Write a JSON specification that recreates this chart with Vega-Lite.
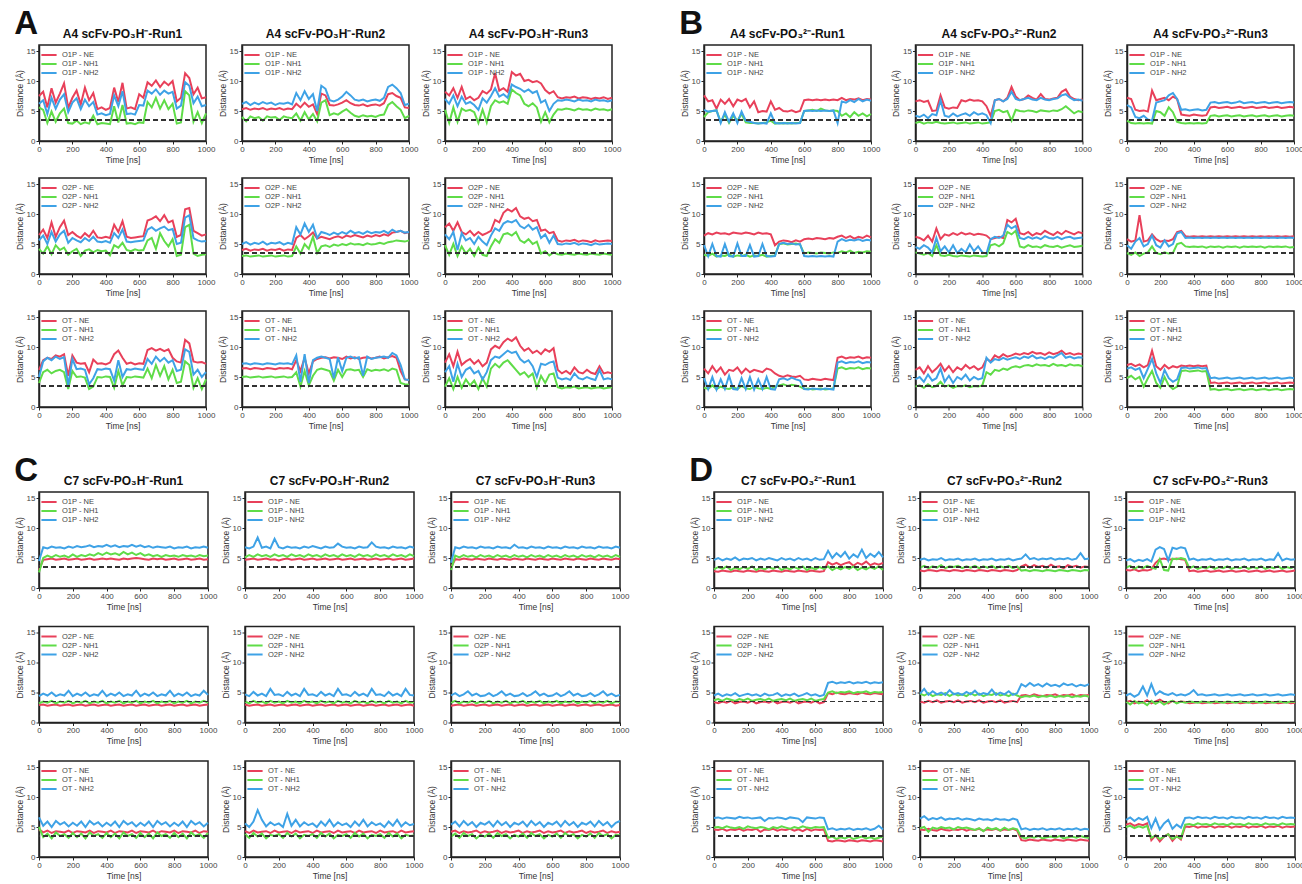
{
"$schema":"https://vega.github.io/schema/vega-lite/v6.json",
"padding":{"left":14,"top":8,"right":0,"bottom":0},
"datasets":{"times":[{"i":1,"t":0},{"i":2,"t":25},{"i":3,"t":50},{"i":4,"t":75},{"i":5,"t":100},{"i":6,"t":125},{"i":7,"t":150},{"i":8,"t":175},{"i":9,"t":200},{"i":10,"t":225},{"i":11,"t":250},{"i":12,"t":275},{"i":13,"t":300},{"i":14,"t":325},{"i":15,"t":350},{"i":16,"t":375},{"i":17,"t":400},{"i":18,"t":425},{"i":19,"t":450},{"i":20,"t":475},{"i":21,"t":500},{"i":22,"t":525},{"i":23,"t":550},{"i":24,"t":575},{"i":25,"t":600},{"i":26,"t":625},{"i":27,"t":650},{"i":28,"t":675},{"i":29,"t":700},{"i":30,"t":725},{"i":31,"t":750},{"i":32,"t":775},{"i":33,"t":800},{"i":34,"t":825},{"i":35,"t":850},{"i":36,"t":875},{"i":37,"t":900},{"i":38,"t":925},{"i":39,"t":950},{"i":40,"t":975},{"i":41,"t":1000}]},
"data":{"values":[
{"p":"A11","lab":"O1P - NE","v":[7.5,8.2,5.6,8.8,6.4,7.9,9.6,5.5,7.2,8.4,6.1,8.9,6.8,8.0,5.3,5.6,5.2,5.5,8.9,6.5,9.7,5.4,5.6,5.3,7.8,7.2,9.8,9.2,10.1,9.0,9.9,9.3,10.0,6.6,7.2,11.3,10.5,7.8,8.9,7.1,7.3]},
{"p":"A11","lab":"O1P - NH1","v":[5.6,5.2,3.0,4.9,3.2,4.6,5.4,3.0,2.9,3.4,2.8,3.1,2.9,4.2,2.8,3.0,2.9,2.8,5.8,3.1,6.0,2.9,3.0,2.8,3.1,3.0,6.5,5.6,7.2,5.4,6.8,5.3,6.2,2.9,3.1,8.3,7.6,3.2,4.8,3.0,4.6]},
{"p":"A11","lab":"O1P - NH2","v":[6.2,6.8,4.5,7.2,5.4,6.9,7.8,4.8,6.4,7.1,5.3,6.9,5.8,6.5,4.4,4.6,4.3,4.5,7.6,5.8,8.3,4.5,4.6,4.4,6.0,5.9,8.4,7.9,8.6,7.7,8.4,7.9,8.2,5.4,5.9,9.8,9.2,6.3,7.4,5.8,6.0]},
{"p":"A12","lab":"O1P - NE","v":[5.3,5.5,5.2,5.4,5.3,5.5,5.2,5.4,5.3,5.5,5.2,5.4,5.3,6.2,5.6,6.4,5.7,6.1,4.5,7.9,7.6,6.0,5.9,6.1,6.4,6.8,6.3,6.0,5.9,6.1,5.8,6.0,6.1,5.9,6.3,7.8,8.0,7.5,7.2,5.6,5.5]},
{"p":"A12","lab":"O1P - NH1","v":[4.0,3.3,4.1,3.8,4.0,3.4,4.1,3.9,4.0,3.5,4.1,3.9,3.8,4.6,3.4,4.8,3.6,4.5,3.3,6.4,6.8,4.3,4.6,4.4,4.9,5.3,4.7,4.2,4.0,4.3,4.1,4.2,4.0,4.3,4.4,6.0,6.5,5.8,5.2,3.8,4.2]},
{"p":"A12","lab":"O1P - NH2","v":[6.2,6.5,6.0,6.4,6.1,6.5,6.2,6.4,6.0,6.3,6.2,6.4,6.1,8.0,6.8,8.3,7.0,7.8,5.0,9.2,8.7,6.8,6.6,6.9,7.4,8.2,7.6,6.9,6.7,6.9,6.6,6.8,6.9,6.7,7.2,9.0,9.4,8.8,8.0,6.0,6.2]},
{"p":"A13","lab":"O1P - NE","v":[8.2,7.6,8.8,7.2,9.0,7.0,7.4,6.8,7.2,8.3,7.9,8.6,11.3,8.4,8.8,8.2,11.5,10.9,11.2,10.0,10.2,9.8,10.0,9.6,8.5,7.9,8.3,7.3,7.1,7.3,7.2,7.4,7.1,7.3,7.2,7.0,7.2,7.1,7.3,7.0,7.2]},
{"p":"A13","lab":"O1P - NH1","v":[5.2,3.0,5.6,3.2,5.4,5.0,5.2,4.8,3.0,5.2,3.1,5.8,6.8,6.4,6.6,6.2,8.6,8.0,7.6,6.2,5.8,6.3,5.6,3.2,4.8,3.1,4.4,5.3,5.2,5.4,5.3,5.1,5.4,5.2,5.3,5.1,5.4,5.2,5.3,5.1,5.3]},
{"p":"A13","lab":"O1P - NH2","v":[7.0,6.2,7.6,5.8,7.4,6.2,6.5,6.0,5.2,7.1,6.4,7.5,8.8,7.4,7.8,7.2,9.4,9.0,8.7,8.2,8.6,8.0,8.3,6.4,6.8,5.0,6.2,6.8,6.7,6.9,6.8,6.6,6.9,6.7,6.8,6.6,6.9,6.7,6.8,6.6,6.8]},
{"p":"A21","lab":"O2P - NE","v":[6.5,7.4,6.0,8.6,6.2,7.8,8.9,6.5,7.0,6.4,6.0,6.8,6.2,7.2,6.1,6.0,6.2,6.0,8.2,7.0,8.8,6.2,6.0,6.1,6.2,6.3,8.9,9.2,9.6,8.8,9.8,8.6,8.9,6.2,6.5,10.8,11.0,7.2,6.8,6.4,6.6]},
{"p":"A21","lab":"O2P - NH1","v":[4.2,3.4,4.6,3.3,4.8,4.0,4.4,3.2,3.8,4.2,3.0,3.9,4.1,3.6,4.0,3.8,3.9,3.1,4.8,4.4,5.2,4.0,3.8,4.1,3.9,4.0,5.6,6.0,4.2,6.8,5.5,4.6,5.8,3.0,3.2,7.8,8.2,3.4,3.0,3.2,3.3]},
{"p":"A21","lab":"O2P - NH2","v":[5.6,6.4,5.0,7.0,5.4,6.6,7.2,5.2,6.0,5.6,5.3,6.0,5.5,6.2,5.4,5.3,5.5,5.2,6.8,6.0,7.4,5.4,5.3,5.4,5.5,5.6,7.4,7.8,7.2,7.6,7.9,7.3,7.5,5.0,5.2,9.4,9.8,6.0,5.6,5.4,5.5]},
{"p":"A22","lab":"O2P - NE","v":[4.0,4.2,3.9,4.1,4.0,4.2,3.9,4.1,4.0,4.2,3.9,4.1,4.0,6.0,6.5,5.8,6.3,6.9,5.9,6.2,6.0,5.8,6.1,6.3,6.0,6.4,6.2,6.5,6.3,6.1,6.4,6.2,6.5,6.3,6.6,6.4,6.9,7.0,7.2,6.8,7.0]},
{"p":"A22","lab":"O2P - NH1","v":[3.0,3.1,2.9,3.0,3.1,2.9,3.0,3.1,2.9,3.0,3.1,2.9,3.0,4.6,3.4,5.0,4.2,6.2,3.5,4.6,4.8,4.5,4.9,4.7,5.0,4.8,5.1,4.9,5.0,4.8,5.1,4.9,5.0,5.2,5.0,5.3,5.4,5.6,5.5,5.4,5.6]},
{"p":"A22","lab":"O2P - NH2","v":[5.0,5.3,4.9,5.2,5.0,5.4,4.9,5.2,5.1,5.3,4.9,5.2,5.0,7.8,6.6,8.4,7.0,8.2,6.0,7.0,6.8,6.5,6.9,6.6,7.0,6.7,7.2,6.8,7.0,6.7,7.1,6.8,7.0,6.9,7.2,6.8,7.4,7.0,7.2,6.9,7.0]},
{"p":"A23","lab":"O2P - NE","v":[7.8,8.4,7.2,8.6,7.0,6.6,7.2,6.4,7.0,6.5,6.8,7.2,9.0,8.6,10.2,10.8,10.4,11.0,9.6,9.2,9.4,8.8,9.0,7.2,7.4,6.8,7.0,5.6,5.4,5.6,5.5,5.7,5.4,5.6,5.5,5.3,5.6,5.4,5.5,5.6,5.5]},
{"p":"A23","lab":"O2P - NH1","v":[4.8,3.2,5.0,3.0,4.6,3.4,4.2,3.0,4.4,3.2,3.0,4.6,5.8,5.2,6.6,6.8,6.4,7.0,5.6,5.2,5.8,5.0,5.4,3.4,3.8,3.1,3.6,3.3,3.2,3.4,3.3,3.2,3.4,3.3,3.2,3.4,3.3,3.2,3.4,3.3,3.2]},
{"p":"A23","lab":"O2P - NH2","v":[6.6,5.8,7.0,4.0,6.8,5.6,6.0,5.0,6.2,5.4,4.8,6.4,7.6,7.2,8.4,8.8,8.6,9.0,8.0,7.6,8.2,7.4,7.8,6.0,6.6,5.2,6.4,5.0,4.9,5.1,5.0,5.2,4.9,5.1,5.0,4.8,5.1,4.9,5.0,5.1,5.0]},
{"p":"A31","lab":"OT - NE","v":[6.2,7.8,8.2,8.0,8.6,8.4,8.8,5.2,8.6,7.4,7.2,7.3,5.8,7.9,7.2,7.3,7.1,7.4,8.8,9.4,8.2,7.2,7.4,7.1,7.3,7.2,9.5,9.8,9.4,9.7,9.3,9.6,8.2,7.6,7.4,11.2,10.6,7.6,7.4,7.5,7.2]},
{"p":"A31","lab":"OT - NH1","v":[4.0,5.8,6.2,5.6,6.0,6.2,5.8,3.0,6.0,5.0,5.1,4.9,3.0,3.4,5.0,4.9,5.1,5.0,3.2,6.0,3.6,5.0,4.9,5.1,5.0,4.9,6.4,4.8,7.0,5.2,6.8,4.6,6.2,4.0,4.2,7.6,7.0,3.2,4.8,3.0,4.6]},
{"p":"A31","lab":"OT - NH2","v":[5.0,7.6,8.2,7.8,8.4,8.0,8.3,3.6,8.0,6.3,6.4,6.2,3.8,4.8,6.3,6.2,6.4,6.3,4.4,7.8,5.0,6.3,6.2,6.4,6.3,6.2,8.0,7.2,8.4,7.6,8.2,7.4,7.8,6.0,6.2,9.6,9.2,5.4,6.2,5.0,5.8]},
{"p":"A32","lab":"OT - NE","v":[6.4,6.5,6.3,6.5,6.4,6.3,6.5,6.4,6.3,6.5,6.4,6.5,6.3,7.8,6.0,8.2,5.6,7.6,8.0,8.2,8.3,8.1,8.3,8.2,8.0,8.4,8.1,8.3,8.0,8.2,8.3,8.1,8.2,8.4,8.1,8.3,8.5,8.2,6.0,4.6,4.5]},
{"p":"A32","lab":"OT - NH1","v":[5.0,5.1,4.9,5.0,5.1,4.9,5.0,5.1,4.9,5.0,5.1,4.9,5.0,5.8,3.4,6.0,3.6,5.2,6.2,6.4,6.2,6.0,4.4,6.2,5.0,6.2,6.3,6.1,6.2,5.0,6.3,6.0,6.2,6.1,6.3,6.0,6.4,6.2,4.0,3.8,3.7]},
{"p":"A32","lab":"OT - NH2","v":[7.2,7.3,7.1,7.3,7.2,7.1,7.3,7.2,7.1,7.3,7.2,7.3,7.1,8.6,4.2,8.8,4.0,7.8,8.2,8.4,8.2,8.0,4.8,8.3,6.0,8.2,8.4,8.1,8.3,5.2,8.4,8.0,8.2,8.3,8.4,8.2,9.0,8.6,7.0,4.6,4.5]},
{"p":"A33","lab":"OT - NE","v":[7.4,8.8,6.8,9.2,7.0,7.6,8.0,7.2,7.8,6.8,7.4,9.6,10.2,9.8,10.8,11.4,11.0,11.6,10.2,9.4,9.8,9.0,9.4,8.8,9.6,9.2,9.8,6.2,5.6,6.0,5.5,6.6,5.8,5.6,6.2,5.7,5.5,6.8,5.6,5.8,5.6]},
{"p":"A33","lab":"OT - NH1","v":[3.4,4.8,3.0,5.0,3.2,4.6,3.6,4.4,3.0,4.8,3.4,6.4,7.2,6.6,7.4,7.8,7.0,6.2,5.4,5.8,5.0,5.6,3.2,5.2,4.0,5.4,5.6,3.3,3.1,3.3,3.2,3.4,3.1,3.2,3.3,3.1,3.2,3.3,3.1,3.2,3.3]},
{"p":"A33","lab":"OT - NH2","v":[5.8,6.8,4.2,7.2,5.0,6.2,6.6,5.6,6.0,4.6,5.8,7.8,8.4,8.2,8.8,9.4,9.0,9.2,8.0,7.4,7.8,6.8,5.0,7.2,7.0,7.4,7.6,4.9,4.6,4.8,4.5,5.6,4.8,4.6,5.0,4.7,4.5,6.2,4.6,4.8,4.6]},
{"p":"B11","lab":"O1P - NE","v":[7.6,6.6,6.8,5.4,6.9,6.2,7.0,5.8,6.9,6.6,7.0,5.6,6.6,4.8,5.0,4.9,6.6,5.2,5.5,5.0,4.9,5.1,4.8,5.0,6.8,6.9,6.8,6.9,6.8,6.9,6.8,6.9,6.8,7.2,6.8,7.0,6.9,7.1,6.8,7.0,6.9]},
{"p":"B11","lab":"O1P - NH1","v":[4.0,4.8,5.0,5.1,3.2,4.4,3.0,4.2,3.4,4.5,3.1,3.0,3.0,2.9,3.0,3.1,3.4,2.9,3.0,2.9,3.0,2.9,3.0,3.0,5.0,5.1,5.2,5.0,5.4,5.1,5.0,5.1,5.0,4.2,4.6,4.0,4.8,4.2,4.6,4.1,4.5]},
{"p":"B11","lab":"O1P - NH2","v":[5.2,4.9,5.0,5.1,3.0,4.8,3.2,4.6,3.0,4.9,3.4,3.2,3.0,2.9,3.0,2.9,4.6,3.0,2.9,3.0,2.9,3.0,2.9,3.0,5.0,5.1,5.0,5.1,5.0,5.1,5.0,5.1,3.0,6.6,6.4,6.8,6.5,7.0,6.6,6.9,6.7]},
{"p":"B12","lab":"O1P - NE","v":[6.6,6.8,6.5,6.7,5.0,5.1,7.6,5.6,5.4,5.6,5.5,6.8,6.6,6.9,6.7,6.8,6.6,5.8,4.2,6.8,7.0,6.6,7.2,9.0,7.4,6.8,7.0,7.6,7.2,6.9,7.8,7.0,6.9,7.1,7.2,8.2,8.6,7.4,7.0,6.8,6.9]},
{"p":"B12","lab":"O1P - NH1","v":[3.0,3.2,2.9,3.1,3.0,3.2,3.0,2.9,3.0,3.1,2.9,3.0,3.1,2.9,3.0,3.1,2.9,3.0,3.1,5.0,5.2,4.8,5.0,3.4,5.2,5.0,4.9,5.1,5.0,4.8,5.1,5.0,4.9,5.1,5.0,5.3,5.8,5.2,4.6,5.0,4.8]},
{"p":"B12","lab":"O1P - NH2","v":[4.2,4.0,4.4,3.8,4.5,4.3,6.8,4.2,4.0,4.6,4.1,4.4,4.6,4.2,4.8,4.4,4.6,4.3,3.0,6.8,7.0,6.6,7.0,8.2,7.0,6.8,7.0,7.2,6.9,6.8,7.2,6.9,6.8,7.0,7.1,7.6,7.8,7.2,6.8,6.9,6.7]},
{"p":"B13","lab":"O1P - NE","v":[7.2,7.0,5.2,5.0,5.1,4.9,8.4,6.8,7.0,7.2,6.8,7.4,7.0,4.4,4.3,4.2,4.4,4.3,4.2,4.3,5.6,5.7,5.5,5.6,5.7,5.5,5.6,5.7,5.5,5.6,5.7,5.5,5.6,5.7,5.5,5.6,5.7,5.5,5.6,5.7,5.6]},
{"p":"B13","lab":"O1P - NH1","v":[3.4,3.0,2.9,3.0,2.9,3.0,2.9,5.0,4.8,4.2,5.6,4.8,3.2,3.0,2.9,3.0,2.9,3.0,2.9,3.0,4.2,4.3,4.1,4.2,4.3,4.1,4.2,4.3,4.1,4.2,4.3,4.1,4.2,4.3,4.1,4.2,4.3,4.1,4.2,4.3,4.2]},
{"p":"B13","lab":"O1P - NH2","v":[6.0,5.6,4.0,3.8,4.2,3.6,3.4,6.4,6.6,6.8,7.6,8.0,7.0,5.2,5.3,5.1,5.2,5.3,5.1,5.2,6.4,6.5,6.3,6.4,6.5,6.3,6.4,6.6,6.3,6.4,6.5,6.3,6.4,6.5,6.3,6.4,6.5,6.3,6.4,6.5,6.4]},
{"p":"B21","lab":"O2P - NE","v":[6.4,6.8,6.6,6.9,6.7,6.8,6.6,6.9,6.8,6.7,6.9,6.8,6.6,6.9,6.7,6.8,6.6,4.8,5.4,5.6,5.5,5.3,5.6,5.4,5.8,5.9,5.8,6.0,5.9,5.8,6.0,5.9,6.2,6.4,6.0,6.3,5.9,6.2,6.0,6.4,6.1]},
{"p":"B21","lab":"O2P - NH1","v":[3.2,3.0,3.4,2.9,3.1,3.0,3.3,2.9,3.1,3.0,3.2,2.9,3.1,3.0,3.2,2.9,3.0,3.1,5.0,5.1,4.9,5.0,5.1,4.9,3.4,3.6,3.5,3.4,3.6,3.5,3.4,3.6,3.5,3.8,3.6,3.9,3.5,3.7,3.6,3.8,3.7]},
{"p":"B21","lab":"O2P - NH2","v":[4.8,3.0,5.0,3.0,2.9,5.0,3.0,2.9,5.1,3.0,3.0,4.8,2.9,3.0,5.0,3.0,2.9,3.0,5.0,5.2,5.0,5.1,4.9,5.0,3.0,2.9,3.0,2.9,3.0,2.9,3.0,2.9,5.4,5.8,5.5,5.7,5.6,5.8,5.5,5.7,5.6]},
{"p":"B22","lab":"O2P - NE","v":[6.2,6.0,5.6,6.4,5.4,7.6,5.8,6.6,6.4,6.8,6.5,6.9,6.6,6.8,6.5,6.7,6.6,6.4,5.8,6.0,6.2,6.0,9.0,8.6,9.2,6.8,6.6,7.0,6.4,6.8,6.6,7.2,6.8,6.5,7.0,6.6,7.2,6.9,6.6,7.0,6.8]},
{"p":"B22","lab":"O2P - NH1","v":[3.6,3.4,3.2,3.5,3.0,4.8,3.1,3.0,3.2,3.0,2.9,3.1,3.0,2.9,3.1,3.0,2.9,3.0,4.8,5.0,4.6,5.1,7.0,6.6,7.2,4.6,4.4,4.8,4.5,4.6,4.4,4.8,4.6,4.5,4.7,4.4,4.6,4.8,4.5,4.6,4.7]},
{"p":"B22","lab":"O2P - NH2","v":[4.5,4.2,4.8,4.4,3.6,6.0,3.8,4.6,3.6,4.8,3.5,4.2,3.6,4.9,3.8,4.6,3.6,3.4,5.8,6.2,6.0,6.4,8.2,7.6,8.0,6.0,5.8,6.2,5.9,6.1,5.8,6.3,6.0,5.9,6.2,5.8,6.1,6.2,5.9,6.0,6.1]},
{"p":"B23","lab":"O2P - NE","v":[5.8,5.4,5.6,9.8,5.4,5.6,6.6,5.8,5.4,5.6,5.5,5.8,7.0,7.2,6.3,6.2,6.3,6.2,6.3,6.2,6.3,6.2,6.3,6.2,6.3,6.2,6.3,6.2,6.3,6.2,6.3,6.2,6.3,6.2,6.3,6.2,6.3,6.2,6.3,6.2,6.3]},
{"p":"B23","lab":"O2P - NH1","v":[3.5,3.2,3.6,3.0,3.4,3.6,4.6,3.5,3.3,3.6,3.4,3.5,5.0,5.2,4.6,4.5,4.6,4.5,4.6,4.4,4.6,4.5,4.6,4.4,4.6,4.5,4.6,4.4,4.6,4.5,4.6,4.5,4.6,4.4,4.6,4.5,4.6,4.5,4.6,4.4,4.5]},
{"p":"B23","lab":"O2P - NH2","v":[4.8,4.2,5.4,6.0,4.6,5.0,6.4,4.8,4.4,5.6,4.6,5.0,6.8,7.0,6.0,6.1,6.0,6.1,6.0,6.1,6.0,6.1,6.0,6.1,6.0,6.1,6.0,6.1,6.0,6.1,6.0,6.1,6.0,6.1,6.0,6.1,6.0,6.1,6.0,6.1,6.0]},
{"p":"B31","lab":"OT - NE","v":[6.4,5.6,6.8,5.8,6.6,5.4,6.2,6.0,6.6,5.6,6.4,5.8,6.2,6.0,5.8,6.4,6.2,5.6,5.2,5.0,5.3,5.1,5.0,5.2,4.6,4.5,4.7,4.6,4.5,4.7,4.6,4.5,8.2,8.4,8.1,8.3,8.2,8.4,8.1,8.3,8.2]},
{"p":"B31","lab":"OT - NH1","v":[3.2,3.0,3.6,3.0,3.4,3.1,3.0,3.3,3.0,3.5,3.1,3.0,3.4,3.1,3.0,3.2,3.0,3.4,3.6,3.8,3.5,3.7,3.6,3.4,3.0,3.1,2.9,3.0,3.1,2.9,3.0,3.1,6.4,6.6,6.3,6.5,6.4,6.6,6.3,6.5,6.4]},
{"p":"B31","lab":"OT - NH2","v":[4.8,3.0,5.0,2.9,4.6,3.0,5.2,3.0,2.9,4.8,3.0,5.0,2.9,4.6,3.0,5.0,3.0,2.9,4.6,4.8,4.5,4.9,4.6,4.4,3.0,2.9,3.1,3.0,2.9,3.1,3.0,2.9,7.4,7.6,7.3,7.5,7.4,7.6,7.3,7.5,7.4]},
{"p":"B32","lab":"OT - NE","v":[6.2,6.6,5.6,6.8,5.8,6.4,7.2,6.0,6.8,5.8,6.6,6.2,7.0,6.4,6.8,6.2,6.6,8.0,7.6,8.6,8.2,8.8,8.4,8.6,8.9,8.7,9.0,8.8,9.2,8.9,9.0,8.7,9.1,8.8,9.0,9.4,8.8,9.0,8.7,8.9,8.8]},
{"p":"B32","lab":"OT - NH1","v":[3.4,3.6,3.2,3.8,3.3,3.5,4.2,3.4,3.6,3.2,3.5,3.4,3.6,3.3,3.5,3.4,3.6,5.8,5.4,6.2,6.0,6.4,6.2,6.6,6.8,6.6,6.9,7.0,6.8,7.1,6.9,7.0,6.8,7.2,6.9,7.0,6.8,7.1,6.9,7.0,6.8]},
{"p":"B32","lab":"OT - NH2","v":[4.6,5.0,4.2,5.4,4.4,4.8,6.4,4.2,5.2,4.0,5.0,4.6,5.4,4.4,5.0,4.6,4.8,8.2,7.4,8.0,7.8,8.2,7.9,8.1,8.3,8.0,8.4,8.2,8.6,8.1,8.3,8.0,8.4,8.2,8.6,9.0,8.2,8.4,8.1,8.3,8.2]},
{"p":"B33","lab":"OT - NE","v":[7.0,7.2,6.8,7.1,6.6,7.0,9.4,6.8,6.2,7.0,6.4,6.8,6.6,6.9,6.8,6.9,6.8,6.9,6.8,6.9,4.0,4.1,3.9,4.0,4.1,3.9,4.0,4.1,3.9,4.0,4.1,3.9,4.0,4.1,3.9,4.0,4.1,3.9,4.0,4.1,4.0]},
{"p":"B33","lab":"OT - NH1","v":[4.8,5.2,4.6,5.0,3.4,4.8,6.0,4.0,3.2,5.0,3.6,3.0,3.4,6.0,6.1,5.9,6.0,6.1,5.9,6.0,2.9,3.0,2.8,2.9,3.0,2.8,2.9,3.0,2.8,2.9,3.0,2.8,2.9,3.0,2.8,2.9,3.0,2.8,2.9,3.0,2.9]},
{"p":"B33","lab":"OT - NH2","v":[6.4,6.6,6.2,6.5,4.8,6.4,8.0,5.6,4.0,6.2,4.8,4.2,4.6,6.5,6.6,6.4,6.5,6.6,6.4,6.5,4.8,4.9,4.7,4.8,4.9,4.7,4.8,4.9,4.7,4.8,4.9,4.7,4.8,4.9,4.7,4.8,4.9,4.7,4.8,4.9,4.8]},
{"p":"C11","lab":"O1P - NE","v":[3.0,4.7,4.8,4.9,4.7,4.8,4.9,4.7,4.8,4.9,4.7,4.8,4.9,4.7,4.8,4.9,4.8,4.9,4.8,4.7,4.9,4.8,4.9,5.0,4.9,4.8,4.7,4.9,4.8,4.9,4.7,4.8,4.9,4.7,4.8,4.9,4.7,4.8,4.9,4.7,4.8]},
{"p":"C11","lab":"O1P - NH1","v":[2.6,5.0,5.4,5.1,5.5,5.2,5.4,5.1,5.6,5.2,5.5,5.3,5.6,5.4,5.8,5.5,5.9,5.6,5.8,5.5,6.0,5.6,5.9,5.5,5.8,5.4,5.6,5.3,5.5,5.2,5.5,5.3,5.4,5.2,5.5,5.3,5.4,5.2,5.5,5.3,5.4]},
{"p":"C11","lab":"O1P - NH2","v":[4.5,6.8,6.6,6.9,6.7,6.8,6.6,6.9,6.7,7.0,6.8,6.9,7.1,6.8,7.0,6.9,7.2,6.9,7.1,6.8,7.0,6.9,7.2,6.9,7.1,6.8,7.0,6.7,6.9,6.8,6.7,6.9,6.6,6.8,6.7,6.9,6.6,6.8,6.7,6.9,6.7]},
{"p":"C12","lab":"O1P - NE","v":[4.7,4.8,4.9,4.7,4.8,4.9,4.7,4.8,4.6,4.8,4.9,4.7,4.8,4.9,4.7,4.8,4.9,4.7,4.8,4.9,4.7,4.8,4.9,4.7,4.8,4.9,4.7,4.8,4.9,4.7,4.8,4.9,4.7,4.8,4.9,4.7,4.8,4.9,4.7,4.8,4.9]},
{"p":"C12","lab":"O1P - NH1","v":[5.1,5.5,5.2,5.6,5.3,5.5,5.2,5.6,5.3,5.5,5.2,5.6,5.3,5.5,5.2,5.6,5.3,5.5,5.2,5.6,5.3,5.5,5.2,5.6,5.3,5.5,5.2,5.6,5.3,5.5,5.2,5.6,5.3,5.5,5.2,5.6,5.3,5.5,5.2,5.6,5.3]},
{"p":"C12","lab":"O1P - NH2","v":[6.8,6.6,6.9,8.4,6.7,6.9,6.6,8.2,6.8,6.6,6.9,6.7,6.8,6.6,6.9,6.7,7.0,6.8,6.6,6.9,6.7,6.8,7.4,6.9,6.7,6.8,6.6,6.9,6.7,6.8,7.6,6.9,6.7,6.8,6.6,6.9,6.7,6.8,6.6,6.9,6.7]},
{"p":"C13","lab":"O1P - NE","v":[3.4,4.8,4.7,4.9,4.8,4.7,4.9,4.8,4.7,4.9,4.8,4.7,4.9,4.8,4.7,4.9,4.8,4.7,4.9,4.8,4.7,4.9,4.8,4.7,4.9,4.8,4.7,4.9,4.8,4.7,4.9,4.8,4.7,4.9,4.8,4.7,4.9,4.8,4.7,4.9,4.8]},
{"p":"C13","lab":"O1P - NH1","v":[3.0,5.4,5.1,5.5,5.2,5.4,5.1,5.5,5.2,5.4,5.1,5.5,5.2,5.4,5.1,5.5,5.2,5.4,5.1,5.5,5.2,5.4,5.1,5.5,5.2,5.4,5.1,5.5,5.2,5.4,5.1,5.5,5.2,5.4,5.1,5.5,5.2,5.4,5.1,5.5,5.2]},
{"p":"C13","lab":"O1P - NH2","v":[4.2,6.8,6.6,6.9,6.7,6.8,6.6,6.9,6.7,6.8,6.6,6.9,6.7,6.8,6.6,7.2,6.7,6.8,6.6,6.9,6.7,6.8,6.6,6.9,6.7,6.8,6.6,6.9,6.7,6.8,6.6,6.9,6.7,6.8,6.6,6.9,6.7,6.8,6.6,6.9,6.7]},
{"p":"C21","lab":"O2P - NE","v":[2.9,3.0,2.8,2.9,3.0,2.8,2.9,3.0,2.8,2.9,3.0,2.8,2.9,3.0,2.8,2.9,3.0,2.8,2.9,3.0,2.8,2.9,3.0,2.8,2.9,3.0,2.8,2.9,3.0,2.8,2.9,3.0,2.8,2.9,3.0,2.8,2.9,3.0,2.8,2.9,3.0]},
{"p":"C21","lab":"O2P - NH1","v":[3.2,3.5,3.3,3.6,3.2,3.5,3.3,3.6,3.2,3.5,3.3,3.6,3.2,3.5,3.3,3.6,3.2,3.5,3.3,3.6,3.2,3.5,3.3,3.6,3.2,3.5,3.3,3.6,3.2,3.5,3.3,3.6,3.2,3.5,3.3,3.6,3.2,3.5,3.3,3.6,3.3]},
{"p":"C21","lab":"O2P - NH2","v":[4.4,4.8,4.5,5.0,4.4,4.7,4.5,5.3,4.4,4.8,4.5,5.0,4.4,4.7,4.5,5.3,4.4,4.8,4.5,5.0,4.4,4.7,4.5,5.3,4.4,4.8,4.5,5.0,4.4,4.7,4.5,5.3,4.4,4.8,4.5,5.0,4.4,4.7,4.5,5.3,4.6]},
{"p":"C22","lab":"O2P - NE","v":[3.0,2.8,2.9,3.0,2.8,2.9,3.0,2.8,2.9,3.0,2.8,2.9,3.0,2.8,2.9,3.0,2.8,2.9,3.0,2.8,2.9,3.0,2.8,2.9,3.0,2.8,2.9,3.0,2.8,2.9,3.0,2.8,2.9,3.0,2.8,2.9,3.0,2.8,2.9,3.0,2.8]},
{"p":"C22","lab":"O2P - NH1","v":[3.5,3.2,3.6,3.3,3.5,3.2,3.6,3.3,3.5,3.2,3.6,3.3,3.5,3.2,3.6,3.3,3.5,3.2,3.6,3.3,3.5,3.2,3.6,3.3,3.5,3.2,3.6,3.3,3.5,3.2,3.6,3.3,3.5,3.2,3.6,3.3,3.5,3.2,3.6,3.3,3.4]},
{"p":"C22","lab":"O2P - NH2","v":[4.7,4.4,5.1,4.5,4.8,4.4,5.6,4.6,4.7,4.4,5.1,4.5,4.8,4.4,5.6,4.6,4.7,4.4,5.1,4.5,4.8,4.4,5.6,4.6,4.7,4.4,5.1,4.5,4.8,4.4,5.6,4.6,4.7,4.4,5.1,4.5,4.8,4.4,5.6,4.6,4.5]},
{"p":"C23","lab":"O2P - NE","v":[2.8,2.9,3.0,2.8,2.9,3.0,2.8,2.9,3.0,2.8,2.9,3.0,2.8,2.9,3.0,2.8,2.9,3.0,2.8,2.9,3.0,2.8,2.9,3.0,2.8,2.9,3.0,2.8,2.9,3.0,2.8,2.9,3.0,2.8,2.9,3.0,2.8,2.9,3.0,2.8,2.9]},
{"p":"C23","lab":"O2P - NH1","v":[3.3,3.6,3.2,3.5,3.3,3.6,3.2,3.5,3.3,3.6,3.2,3.5,3.3,3.6,3.2,3.5,3.3,3.6,3.2,3.5,3.3,3.6,3.2,3.5,3.3,3.6,3.2,3.5,3.3,3.6,3.2,3.5,3.3,3.6,3.2,3.5,3.3,3.6,3.2,3.5,3.4]},
{"p":"C23","lab":"O2P - NH2","v":[4.5,4.9,4.4,4.7,5.2,4.5,4.8,4.4,4.5,4.9,4.4,4.7,5.2,4.5,4.8,4.4,4.5,4.9,4.4,4.7,5.2,4.5,4.8,4.4,4.5,4.9,4.4,4.7,5.2,4.5,4.8,4.4,4.5,4.9,4.4,4.7,5.2,4.5,4.8,4.4,4.6]},
{"p":"C31","lab":"OT - NE","v":[4.6,4.1,4.4,4.0,4.3,4.2,4.1,4.4,4.0,4.3,4.2,4.1,4.4,4.0,4.3,4.2,4.1,4.4,4.0,4.3,4.2,4.1,4.4,4.0,4.3,4.2,4.1,4.4,4.0,4.3,4.2,4.1,4.4,4.0,4.3,4.2,4.1,4.4,4.0,4.3,4.2]},
{"p":"C31","lab":"OT - NH1","v":[5.0,3.3,3.9,3.1,4.1,3.5,3.8,3.2,4.0,3.3,3.9,3.1,4.1,3.5,3.8,3.2,4.0,3.3,3.9,3.1,4.1,3.5,3.8,3.2,4.0,3.3,3.9,3.1,4.1,3.5,3.8,3.2,4.0,3.3,3.9,3.1,4.1,3.5,3.8,3.2,4.0]},
{"p":"C31","lab":"OT - NH2","v":[6.6,5.2,5.9,5.0,6.0,5.4,5.8,5.1,5.7,5.2,5.9,5.0,6.0,5.4,5.8,5.1,5.7,5.2,5.9,5.0,6.0,5.4,5.8,5.1,5.7,5.2,5.9,5.0,6.0,5.4,5.8,5.1,5.7,5.2,5.9,5.0,6.0,5.4,5.8,5.1,5.7]},
{"p":"C32","lab":"OT - NE","v":[4.3,4.0,4.4,4.1,4.2,4.3,4.0,4.4,4.1,4.2,4.3,4.0,4.4,4.1,4.2,4.3,4.0,4.4,4.1,4.2,4.3,4.0,4.4,4.1,4.2,4.3,4.0,4.4,4.1,4.2,4.3,4.0,4.4,4.1,4.2,4.3,4.0,4.4,4.1,4.2,4.3]},
{"p":"C32","lab":"OT - NH1","v":[3.8,3.2,4.0,3.4,3.9,3.1,3.7,3.5,3.8,3.2,4.0,3.4,3.9,3.1,3.7,3.5,3.8,3.2,4.0,3.4,3.9,3.1,3.7,3.5,3.8,3.2,4.0,3.4,3.9,3.1,3.7,3.5,3.8,3.2,4.0,3.4,3.9,3.1,3.7,3.5,3.6]},
{"p":"C32","lab":"OT - NH2","v":[5.6,5.0,5.9,7.8,6.2,5.1,5.8,5.3,5.6,5.0,7.2,5.2,6.2,5.1,5.8,5.3,5.6,5.0,5.9,5.2,6.2,5.1,5.8,5.3,5.6,5.0,5.9,5.2,6.2,5.1,5.8,5.3,5.6,5.0,5.9,5.2,6.2,5.1,5.8,5.3,5.5]},
{"p":"C33","lab":"OT - NE","v":[4.2,4.4,4.0,4.3,4.1,4.2,4.4,4.0,4.3,4.1,4.2,4.4,4.0,4.3,4.1,4.2,4.4,4.0,4.3,4.1,4.2,4.4,4.0,4.3,4.1,4.2,4.4,4.0,4.3,4.1,4.2,4.4,4.0,4.3,4.1,4.2,4.4,4.0,4.3,4.1,4.2]},
{"p":"C33","lab":"OT - NH1","v":[3.4,3.9,3.2,4.0,3.5,3.8,3.1,3.7,3.4,3.9,3.2,4.0,3.5,3.8,3.1,3.7,3.4,3.9,3.2,4.0,3.5,3.8,3.1,3.7,3.4,3.9,3.2,4.0,3.5,3.8,3.1,3.7,3.4,3.9,3.2,4.0,3.5,3.8,3.1,3.7,3.6]},
{"p":"C33","lab":"OT - NH2","v":[5.4,5.9,5.1,6.0,5.3,5.8,5.0,5.7,5.4,5.9,5.1,6.0,5.3,5.8,5.0,5.7,5.4,5.9,5.1,6.0,5.3,5.8,5.0,5.7,5.4,5.9,5.1,6.0,5.3,5.8,5.0,5.7,5.4,5.9,5.1,6.0,5.3,5.8,5.0,5.7,6.0]},
{"p":"D11","lab":"O1P - NE","v":[2.8,2.7,2.9,2.8,2.7,2.9,2.8,2.7,2.9,2.8,2.7,2.9,2.8,2.7,2.9,2.8,2.7,2.9,2.8,2.7,2.9,2.8,2.7,2.9,2.8,2.7,2.8,4.3,3.9,4.2,3.8,4.1,4.3,3.7,4.2,3.9,4.4,3.8,4.1,3.9,4.2]},
{"p":"D11","lab":"O1P - NH1","v":[3.1,3.5,3.2,3.6,3.0,3.4,3.1,3.5,3.2,3.6,3.0,3.4,3.1,3.5,3.2,3.6,3.0,3.4,3.1,3.5,3.2,3.6,3.0,3.4,3.1,3.5,3.2,3.6,3.0,3.4,3.1,3.5,3.2,3.6,3.0,3.4,3.1,3.5,3.2,3.6,3.0]},
{"p":"D11","lab":"O1P - NH2","v":[4.7,5.0,4.6,4.9,4.7,5.1,4.6,4.9,4.8,5.0,4.6,4.9,4.7,5.0,4.8,4.6,5.0,4.7,4.9,4.6,5.0,4.7,4.9,4.6,5.0,4.7,4.8,6.2,5.0,5.8,5.2,6.0,4.9,5.6,5.1,6.4,5.0,5.7,5.2,6.0,5.1]},
{"p":"D12","lab":"O1P - NE","v":[2.9,2.8,3.0,2.9,2.8,3.0,2.9,2.8,3.0,2.9,2.8,3.0,2.9,2.8,3.0,2.9,2.8,3.0,2.9,2.8,3.0,2.9,2.8,3.0,3.6,3.9,3.4,3.8,3.5,3.7,3.4,3.9,3.5,3.6,3.3,3.8,3.5,3.7,3.4,3.6,3.5]},
{"p":"D12","lab":"O1P - NH1","v":[3.4,3.7,3.3,3.6,3.4,3.8,3.3,3.6,3.5,3.7,3.3,3.6,3.4,3.7,3.3,3.6,3.4,3.7,3.3,3.6,3.4,3.7,3.3,3.6,2.9,3.0,2.8,3.0,2.9,2.8,3.0,2.9,2.8,3.0,2.9,2.8,3.0,2.9,2.8,3.0,2.9]},
{"p":"D12","lab":"O1P - NH2","v":[4.7,4.9,4.6,4.8,4.7,5.0,4.6,4.8,4.7,4.9,4.6,4.8,4.7,4.9,4.6,4.8,4.7,4.9,4.6,4.8,4.7,4.9,4.6,4.8,4.9,5.6,4.8,5.0,4.7,4.9,4.8,5.0,4.7,4.9,4.8,5.0,4.7,4.9,5.8,4.8,4.9]},
{"p":"D13","lab":"O1P - NE","v":[3.0,2.9,3.1,2.8,3.0,2.9,3.1,4.2,4.8,4.9,4.7,4.8,4.9,4.8,4.7,2.8,2.9,2.7,2.8,2.9,2.7,2.8,2.9,2.7,2.8,2.9,2.7,2.8,2.9,2.7,2.8,2.9,2.7,2.8,2.9,2.7,2.8,2.9,2.7,2.8,2.9]},
{"p":"D13","lab":"O1P - NH1","v":[3.4,3.7,3.2,3.6,3.3,3.7,3.4,3.2,4.8,3.0,2.9,4.9,4.8,5.0,4.8,3.3,3.6,3.2,3.5,3.3,3.6,3.2,3.5,3.3,3.6,3.2,3.5,3.3,3.6,3.2,3.5,3.3,3.6,3.2,3.5,3.3,3.6,3.2,3.5,3.3,3.6]},
{"p":"D13","lab":"O1P - NH2","v":[4.6,4.8,4.4,4.7,4.5,4.8,4.4,6.4,6.8,6.5,4.6,6.7,6.5,6.8,6.6,4.7,4.9,4.6,4.8,4.7,4.9,4.6,4.8,4.7,4.9,4.6,4.8,4.7,4.9,4.6,4.8,4.7,4.9,4.6,4.8,4.7,5.8,4.6,4.9,4.7,4.8]},
{"p":"D21","lab":"O2P - NE","v":[3.4,3.2,3.5,3.3,3.6,3.2,3.4,3.5,3.3,3.6,3.2,3.4,3.5,3.3,3.6,3.2,3.4,3.5,3.3,3.6,3.2,3.4,3.5,3.3,3.6,3.2,3.4,4.9,4.7,5.0,4.8,4.7,4.9,4.8,4.7,5.0,4.8,4.7,4.9,4.8,4.7]},
{"p":"D21","lab":"O2P - NH1","v":[3.7,3.9,3.6,4.0,3.8,3.6,3.9,3.7,4.0,3.6,3.8,3.9,3.7,4.0,3.6,3.8,3.9,3.7,4.0,3.6,3.8,3.9,3.7,4.0,3.6,3.8,3.9,5.0,5.2,4.9,5.1,5.0,5.2,4.9,5.1,5.0,5.2,4.9,5.1,5.0,5.1]},
{"p":"D21","lab":"O2P - NH2","v":[4.5,4.8,4.4,4.7,4.5,4.9,4.4,4.6,4.8,4.5,4.7,4.4,4.8,4.5,4.6,4.9,4.4,4.7,4.5,4.8,4.4,4.6,4.9,4.5,4.7,4.4,4.6,6.6,6.8,6.5,6.7,6.6,6.8,6.5,6.7,6.6,6.8,6.5,6.7,6.6,6.7]},
{"p":"D22","lab":"O2P - NE","v":[3.5,3.3,3.6,3.4,3.7,3.3,3.5,3.6,3.4,3.7,3.3,3.5,3.6,3.4,3.7,3.3,3.5,3.6,3.4,3.7,3.3,3.5,3.6,3.4,4.5,4.6,4.4,4.7,4.5,4.4,4.6,4.5,4.7,4.4,4.6,4.5,4.7,4.4,4.6,4.5,4.6]},
{"p":"D22","lab":"O2P - NH1","v":[4.8,4.5,4.9,4.4,4.7,4.6,4.9,4.4,4.8,4.5,4.7,4.4,4.9,4.5,4.8,4.4,4.7,4.6,4.9,4.5,4.7,4.4,4.8,4.5,4.2,4.4,4.3,4.5,4.2,4.4,4.3,4.5,4.2,4.4,4.3,4.5,4.2,4.4,4.3,4.5,4.3]},
{"p":"D22","lab":"O2P - NH2","v":[4.8,5.6,4.6,5.2,4.7,5.0,4.6,5.4,4.7,4.9,4.6,5.1,4.7,5.3,4.6,4.9,4.7,5.5,4.6,5.0,4.7,5.2,4.6,4.9,6.4,6.0,6.6,6.1,6.4,6.0,6.5,6.1,6.3,6.0,6.5,6.2,6.4,6.0,6.3,6.1,6.4]},
{"p":"D23","lab":"O2P - NE","v":[3.4,3.6,3.2,3.5,3.3,3.7,3.2,3.5,3.8,3.4,3.2,3.6,3.3,3.5,3.4,3.2,3.3,3.4,3.2,3.3,3.4,3.2,3.3,3.4,3.2,3.3,3.4,3.2,3.3,3.4,3.2,3.3,3.4,3.2,3.3,3.4,3.2,3.3,3.4,3.2,3.3]},
{"p":"D23","lab":"O2P - NH1","v":[3.5,3.0,3.6,3.2,3.4,2.9,3.6,3.1,3.5,3.0,3.4,3.6,3.2,3.5,3.3,3.5,3.4,3.3,3.5,3.4,3.3,3.5,3.4,3.3,3.5,3.4,3.3,3.5,3.4,3.3,3.5,3.4,3.3,3.5,3.4,3.3,3.5,3.4,3.3,3.5,3.4]},
{"p":"D23","lab":"O2P - NH2","v":[4.5,4.8,4.3,4.7,6.0,4.5,6.4,4.6,5.2,4.8,4.6,4.9,4.5,4.7,4.5,4.8,5.4,4.6,4.7,4.5,4.6,4.7,4.5,4.6,4.7,4.5,4.6,4.7,4.5,4.6,4.7,4.5,4.6,4.7,4.5,4.6,4.7,4.5,4.6,4.7,4.6]},
{"p":"D31","lab":"OT - NE","v":[4.6,4.5,4.7,4.4,4.6,4.5,4.7,4.4,4.6,4.5,4.7,4.2,4.6,4.5,4.7,4.4,4.6,4.5,4.7,4.4,4.6,4.3,4.7,4.4,4.6,4.5,4.6,2.7,2.6,2.8,2.7,2.6,2.8,2.7,2.6,2.8,2.7,2.6,2.8,2.7,2.6]},
{"p":"D31","lab":"OT - NH1","v":[4.9,5.0,4.8,5.1,4.9,4.8,5.0,4.7,5.1,4.9,4.8,5.0,4.9,4.6,5.0,4.8,5.1,4.9,4.7,5.0,4.8,5.1,4.9,4.8,5.0,4.9,5.0,3.2,3.4,3.0,3.3,3.1,3.4,3.0,3.2,3.4,3.1,3.3,3.0,3.2,3.4]},
{"p":"D31","lab":"OT - NH2","v":[6.5,6.6,6.4,6.6,6.5,6.4,6.7,6.5,6.6,6.4,6.5,6.6,6.0,6.5,6.4,6.6,6.5,6.3,6.6,6.5,6.4,5.8,6.6,6.5,6.4,6.6,6.5,4.6,4.8,4.5,4.7,4.6,4.8,4.5,4.7,4.6,4.8,4.5,4.7,5.2,4.6]},
{"p":"D32","lab":"OT - NE","v":[4.6,4.5,4.7,4.5,4.4,4.7,4.5,4.4,4.6,4.5,4.7,4.4,4.6,4.5,4.7,4.4,4.6,4.5,4.7,4.4,4.6,4.5,4.7,4.4,2.8,2.7,2.9,2.8,2.7,2.9,2.8,2.7,2.9,2.8,2.7,2.9,2.8,2.7,2.9,2.8,2.7]},
{"p":"D32","lab":"OT - NH1","v":[4.8,5.0,4.2,4.9,4.7,5.0,4.8,4.9,4.6,5.0,4.8,4.9,4.7,4.5,4.8,4.3,4.9,4.6,4.8,4.4,4.9,4.5,4.8,4.6,3.3,3.1,3.4,3.2,3.5,3.1,3.3,3.4,3.2,3.5,3.1,3.3,3.4,3.2,3.5,3.3,3.2]},
{"p":"D32","lab":"OT - NH2","v":[6.4,6.8,6.2,6.5,6.3,6.6,6.2,6.4,6.3,6.5,6.2,6.4,6.3,6.1,6.4,6.2,6.3,6.1,6.4,6.2,6.3,6.1,6.4,6.2,4.6,4.8,4.5,4.7,4.6,4.8,4.5,4.7,4.6,4.8,4.5,4.7,4.6,4.8,4.5,4.7,4.6]},
{"p":"D33","lab":"OT - NE","v":[5.4,5.6,5.2,5.5,5.3,5.6,2.8,3.6,2.6,3.4,3.8,2.7,3.5,2.9,5.1,5.0,5.2,4.9,5.1,5.0,5.2,4.9,5.1,5.0,5.2,4.9,5.1,5.0,5.2,4.9,5.1,5.0,5.2,4.9,5.1,5.0,5.2,4.9,5.1,5.0,5.1]},
{"p":"D33","lab":"OT - NH1","v":[5.0,5.2,4.8,5.1,4.9,5.2,3.2,3.6,3.0,3.4,3.8,3.0,3.4,3.1,5.4,5.5,5.3,5.6,5.4,5.5,5.3,5.6,5.4,5.5,5.3,5.6,5.4,5.5,5.3,5.6,5.4,5.5,5.3,5.6,5.4,5.5,5.3,5.6,5.4,5.5,5.4]},
{"p":"D33","lab":"OT - NH2","v":[6.2,6.6,6.0,6.5,6.2,6.7,4.8,6.4,4.6,5.6,6.2,4.7,5.4,4.9,6.5,6.6,6.4,6.7,6.5,6.6,6.4,6.7,6.5,6.6,6.4,6.7,6.5,6.6,6.4,6.7,6.5,6.6,6.4,6.7,6.5,6.6,6.4,6.7,6.5,6.6,6.5]}
]},
"transform":[
{"flatten":["v"],"as":["d"]},
{"window":[{"op":"row_number","as":"i"}],"groupby":["p","lab"]},
{"lookup":"i","from":{"data":{"name":"times"},"key":"i","fields":["t"]}}
],
"spacing":24,
"resolve":{"scale":{"color":"independent"}},
"vconcat":[
{"hconcat":[
{"title":{"text":"A","fontSize":33,"anchor":"start","offset":-14},"columns":3,"spacing":{"row":12,"column":1},"resolve":{"scale":{"color":"independent"}},"concat":[
{"title":"A4 scFv-PO₃H⁻-Run1","transform":[{"filter":"datum.p=='A11'"}],"layer":[{"mark":"line","encoding":{"x":{"field":"t","type":"quantitative","title":"Time [ns]"},"y":{"field":"d","type":"quantitative","scale":{"domain":[0,16]},"title":"Distance (Å)"},"color":{"field":"lab","type":"nominal","title":null}}},{"mark":"rule","encoding":{"y":{"datum":3.5}}}]},
{"title":"A4 scFv-PO₃H⁻-Run2","transform":[{"filter":"datum.p=='A12'"}],"layer":[{"mark":"line","encoding":{"x":{"field":"t","type":"quantitative","title":"Time [ns]"},"y":{"field":"d","type":"quantitative","scale":{"domain":[0,16]},"title":"Distance (Å)"},"color":{"field":"lab","type":"nominal","title":null}}},{"mark":"rule","encoding":{"y":{"datum":3.5}}}]},
{"title":"A4 scFv-PO₃H⁻-Run3","transform":[{"filter":"datum.p=='A13'"}],"layer":[{"mark":"line","encoding":{"x":{"field":"t","type":"quantitative","title":"Time [ns]"},"y":{"field":"d","type":"quantitative","scale":{"domain":[0,16]},"title":"Distance (Å)"},"color":{"field":"lab","type":"nominal","title":null}}},{"mark":"rule","encoding":{"y":{"datum":3.5}}}]},
{"transform":[{"filter":"datum.p=='A21'"}],"layer":[{"mark":"line","encoding":{"x":{"field":"t","type":"quantitative","title":"Time [ns]"},"y":{"field":"d","type":"quantitative","scale":{"domain":[0,16]},"title":"Distance (Å)"},"color":{"field":"lab","type":"nominal","title":null}}},{"mark":"rule","encoding":{"y":{"datum":3.5}}}]},
{"transform":[{"filter":"datum.p=='A22'"}],"layer":[{"mark":"line","encoding":{"x":{"field":"t","type":"quantitative","title":"Time [ns]"},"y":{"field":"d","type":"quantitative","scale":{"domain":[0,16]},"title":"Distance (Å)"},"color":{"field":"lab","type":"nominal","title":null}}},{"mark":"rule","encoding":{"y":{"datum":3.5}}}]},
{"transform":[{"filter":"datum.p=='A23'"}],"layer":[{"mark":"line","encoding":{"x":{"field":"t","type":"quantitative","title":"Time [ns]"},"y":{"field":"d","type":"quantitative","scale":{"domain":[0,16]},"title":"Distance (Å)"},"color":{"field":"lab","type":"nominal","title":null}}},{"mark":"rule","encoding":{"y":{"datum":3.5}}}]},
{"transform":[{"filter":"datum.p=='A31'"}],"layer":[{"mark":"line","encoding":{"x":{"field":"t","type":"quantitative","title":"Time [ns]"},"y":{"field":"d","type":"quantitative","scale":{"domain":[0,16]},"title":"Distance (Å)"},"color":{"field":"lab","type":"nominal","title":null}}},{"mark":"rule","encoding":{"y":{"datum":3.5}}}]},
{"transform":[{"filter":"datum.p=='A32'"}],"layer":[{"mark":"line","encoding":{"x":{"field":"t","type":"quantitative","title":"Time [ns]"},"y":{"field":"d","type":"quantitative","scale":{"domain":[0,16]},"title":"Distance (Å)"},"color":{"field":"lab","type":"nominal","title":null}}},{"mark":"rule","encoding":{"y":{"datum":3.5}}}]},
{"transform":[{"filter":"datum.p=='A33'"}],"layer":[{"mark":"line","encoding":{"x":{"field":"t","type":"quantitative","title":"Time [ns]"},"y":{"field":"d","type":"quantitative","scale":{"domain":[0,16]},"title":"Distance (Å)"},"color":{"field":"lab","type":"nominal","title":null}}},{"mark":"rule","encoding":{"y":{"datum":3.5}}}]}
]},
{"title":{"text":"B","fontSize":33,"anchor":"start","offset":-14},"columns":3,"spacing":{"row":12,"column":9.5},"resolve":{"scale":{"color":"independent"}},"concat":[
{"title":"A4 scFv-PO₃²⁻-Run1","transform":[{"filter":"datum.p=='B11'"}],"layer":[{"mark":"line","encoding":{"x":{"field":"t","type":"quantitative","title":"Time [ns]"},"y":{"field":"d","type":"quantitative","scale":{"domain":[0,16]},"title":"Distance (Å)"},"color":{"field":"lab","type":"nominal","title":null}}},{"mark":"rule","encoding":{"y":{"datum":3.5}}}]},
{"title":"A4 scFv-PO₃²⁻-Run2","transform":[{"filter":"datum.p=='B12'"}],"layer":[{"mark":"line","encoding":{"x":{"field":"t","type":"quantitative","title":"Time [ns]"},"y":{"field":"d","type":"quantitative","scale":{"domain":[0,16]},"title":"Distance (Å)"},"color":{"field":"lab","type":"nominal","title":null}}},{"mark":"rule","encoding":{"y":{"datum":3.5}}}]},
{"title":"A4 scFv-PO₃²⁻-Run3","transform":[{"filter":"datum.p=='B13'"}],"layer":[{"mark":"line","encoding":{"x":{"field":"t","type":"quantitative","title":"Time [ns]"},"y":{"field":"d","type":"quantitative","scale":{"domain":[0,16]},"title":"Distance (Å)"},"color":{"field":"lab","type":"nominal","title":null}}},{"mark":"rule","encoding":{"y":{"datum":3.5}}}]},
{"transform":[{"filter":"datum.p=='B21'"}],"layer":[{"mark":"line","encoding":{"x":{"field":"t","type":"quantitative","title":"Time [ns]"},"y":{"field":"d","type":"quantitative","scale":{"domain":[0,16]},"title":"Distance (Å)"},"color":{"field":"lab","type":"nominal","title":null}}},{"mark":"rule","encoding":{"y":{"datum":3.5}}}]},
{"transform":[{"filter":"datum.p=='B22'"}],"layer":[{"mark":"line","encoding":{"x":{"field":"t","type":"quantitative","title":"Time [ns]"},"y":{"field":"d","type":"quantitative","scale":{"domain":[0,16]},"title":"Distance (Å)"},"color":{"field":"lab","type":"nominal","title":null}}},{"mark":"rule","encoding":{"y":{"datum":3.5}}}]},
{"transform":[{"filter":"datum.p=='B23'"}],"layer":[{"mark":"line","encoding":{"x":{"field":"t","type":"quantitative","title":"Time [ns]"},"y":{"field":"d","type":"quantitative","scale":{"domain":[0,16]},"title":"Distance (Å)"},"color":{"field":"lab","type":"nominal","title":null}}},{"mark":"rule","encoding":{"y":{"datum":3.5}}}]},
{"transform":[{"filter":"datum.p=='B31'"}],"layer":[{"mark":"line","encoding":{"x":{"field":"t","type":"quantitative","title":"Time [ns]"},"y":{"field":"d","type":"quantitative","scale":{"domain":[0,16]},"title":"Distance (Å)"},"color":{"field":"lab","type":"nominal","title":null}}},{"mark":"rule","encoding":{"y":{"datum":3.5}}}]},
{"transform":[{"filter":"datum.p=='B32'"}],"layer":[{"mark":"line","encoding":{"x":{"field":"t","type":"quantitative","title":"Time [ns]"},"y":{"field":"d","type":"quantitative","scale":{"domain":[0,16]},"title":"Distance (Å)"},"color":{"field":"lab","type":"nominal","title":null}}},{"mark":"rule","encoding":{"y":{"datum":3.5}}}]},
{"transform":[{"filter":"datum.p=='B33'"}],"layer":[{"mark":"line","encoding":{"x":{"field":"t","type":"quantitative","title":"Time [ns]"},"y":{"field":"d","type":"quantitative","scale":{"domain":[0,16]},"title":"Distance (Å)"},"color":{"field":"lab","type":"nominal","title":null}}},{"mark":"rule","encoding":{"y":{"datum":3.5}}}]}
]}
],"spacing":57,"resolve":{"scale":{"color":"independent"}}},
{"hconcat":[
{"title":{"text":"C","fontSize":33,"anchor":"start","offset":-14},"columns":3,"spacing":{"row":13.5,"column":2},"resolve":{"scale":{"color":"independent"}},"concat":[
{"title":"C7 scFv-PO₃H⁻-Run1","width":169,"transform":[{"filter":"datum.p=='C11'"}],"layer":[{"mark":"line","encoding":{"x":{"field":"t","type":"quantitative","title":"Time [ns]"},"y":{"field":"d","type":"quantitative","scale":{"domain":[0,16]},"title":"Distance (Å)"},"color":{"field":"lab","type":"nominal","title":null}}},{"mark":"rule","encoding":{"y":{"datum":3.5}}}]},
{"title":"C7 scFv-PO₃H⁻-Run2","width":169,"transform":[{"filter":"datum.p=='C12'"}],"layer":[{"mark":"line","encoding":{"x":{"field":"t","type":"quantitative","title":"Time [ns]"},"y":{"field":"d","type":"quantitative","scale":{"domain":[0,16]},"title":"Distance (Å)"},"color":{"field":"lab","type":"nominal","title":null}}},{"mark":"rule","encoding":{"y":{"datum":3.5}}}]},
{"title":"C7 scFv-PO₃H⁻-Run3","width":169,"transform":[{"filter":"datum.p=='C13'"}],"layer":[{"mark":"line","encoding":{"x":{"field":"t","type":"quantitative","title":"Time [ns]"},"y":{"field":"d","type":"quantitative","scale":{"domain":[0,16]},"title":"Distance (Å)"},"color":{"field":"lab","type":"nominal","title":null}}},{"mark":"rule","encoding":{"y":{"datum":3.5}}}]},
{"width":169,"transform":[{"filter":"datum.p=='C21'"}],"layer":[{"mark":"line","encoding":{"x":{"field":"t","type":"quantitative","title":"Time [ns]"},"y":{"field":"d","type":"quantitative","scale":{"domain":[0,16]},"title":"Distance (Å)"},"color":{"field":"lab","type":"nominal","title":null}}},{"mark":"rule","encoding":{"y":{"datum":3.5}}}]},
{"width":169,"transform":[{"filter":"datum.p=='C22'"}],"layer":[{"mark":"line","encoding":{"x":{"field":"t","type":"quantitative","title":"Time [ns]"},"y":{"field":"d","type":"quantitative","scale":{"domain":[0,16]},"title":"Distance (Å)"},"color":{"field":"lab","type":"nominal","title":null}}},{"mark":"rule","encoding":{"y":{"datum":3.5}}}]},
{"width":169,"transform":[{"filter":"datum.p=='C23'"}],"layer":[{"mark":"line","encoding":{"x":{"field":"t","type":"quantitative","title":"Time [ns]"},"y":{"field":"d","type":"quantitative","scale":{"domain":[0,16]},"title":"Distance (Å)"},"color":{"field":"lab","type":"nominal","title":null}}},{"mark":"rule","encoding":{"y":{"datum":3.5}}}]},
{"width":169,"transform":[{"filter":"datum.p=='C31'"}],"layer":[{"mark":"line","encoding":{"x":{"field":"t","type":"quantitative","title":"Time [ns]"},"y":{"field":"d","type":"quantitative","scale":{"domain":[0,16]},"title":"Distance (Å)"},"color":{"field":"lab","type":"nominal","title":null}}},{"mark":"rule","encoding":{"y":{"datum":3.5}}}]},
{"width":169,"transform":[{"filter":"datum.p=='C32'"}],"layer":[{"mark":"line","encoding":{"x":{"field":"t","type":"quantitative","title":"Time [ns]"},"y":{"field":"d","type":"quantitative","scale":{"domain":[0,16]},"title":"Distance (Å)"},"color":{"field":"lab","type":"nominal","title":null}}},{"mark":"rule","encoding":{"y":{"datum":3.5}}}]},
{"width":169,"transform":[{"filter":"datum.p=='C33'"}],"layer":[{"mark":"line","encoding":{"x":{"field":"t","type":"quantitative","title":"Time [ns]"},"y":{"field":"d","type":"quantitative","scale":{"domain":[0,16]},"title":"Distance (Å)"},"color":{"field":"lab","type":"nominal","title":null}}},{"mark":"rule","encoding":{"y":{"datum":3.5}}}]}
]},
{"title":{"text":"D","fontSize":33,"anchor":"start","offset":-14},"columns":3,"spacing":{"row":13.5,"column":2},"resolve":{"scale":{"color":"independent"}},"concat":[
{"title":"C7 scFv-PO₃²⁻-Run1","width":169,"transform":[{"filter":"datum.p=='D11'"}],"layer":[{"mark":"line","encoding":{"x":{"field":"t","type":"quantitative","title":"Time [ns]"},"y":{"field":"d","type":"quantitative","scale":{"domain":[0,16]},"title":"Distance (Å)"},"color":{"field":"lab","type":"nominal","title":null}}},{"mark":"rule","encoding":{"y":{"datum":3.5}}}]},
{"title":"C7 scFv-PO₃²⁻-Run2","width":169,"transform":[{"filter":"datum.p=='D12'"}],"layer":[{"mark":"line","encoding":{"x":{"field":"t","type":"quantitative","title":"Time [ns]"},"y":{"field":"d","type":"quantitative","scale":{"domain":[0,16]},"title":"Distance (Å)"},"color":{"field":"lab","type":"nominal","title":null}}},{"mark":"rule","encoding":{"y":{"datum":3.5}}}]},
{"title":"C7 scFv-PO₃²⁻-Run3","width":169,"transform":[{"filter":"datum.p=='D13'"}],"layer":[{"mark":"line","encoding":{"x":{"field":"t","type":"quantitative","title":"Time [ns]"},"y":{"field":"d","type":"quantitative","scale":{"domain":[0,16]},"title":"Distance (Å)"},"color":{"field":"lab","type":"nominal","title":null}}},{"mark":"rule","encoding":{"y":{"datum":3.5}}}]},
{"width":169,"transform":[{"filter":"datum.p=='D21'"}],"layer":[{"mark":"line","encoding":{"x":{"field":"t","type":"quantitative","title":"Time [ns]"},"y":{"field":"d","type":"quantitative","scale":{"domain":[0,16]},"title":"Distance (Å)"},"color":{"field":"lab","type":"nominal","title":null}}},{"mark":"rule","encoding":{"y":{"datum":3.5}}}]},
{"width":169,"transform":[{"filter":"datum.p=='D22'"}],"layer":[{"mark":"line","encoding":{"x":{"field":"t","type":"quantitative","title":"Time [ns]"},"y":{"field":"d","type":"quantitative","scale":{"domain":[0,16]},"title":"Distance (Å)"},"color":{"field":"lab","type":"nominal","title":null}}},{"mark":"rule","encoding":{"y":{"datum":3.5}}}]},
{"width":169,"transform":[{"filter":"datum.p=='D23'"}],"layer":[{"mark":"line","encoding":{"x":{"field":"t","type":"quantitative","title":"Time [ns]"},"y":{"field":"d","type":"quantitative","scale":{"domain":[0,16]},"title":"Distance (Å)"},"color":{"field":"lab","type":"nominal","title":null}}},{"mark":"rule","encoding":{"y":{"datum":3.5}}}]},
{"width":169,"transform":[{"filter":"datum.p=='D31'"}],"layer":[{"mark":"line","encoding":{"x":{"field":"t","type":"quantitative","title":"Time [ns]"},"y":{"field":"d","type":"quantitative","scale":{"domain":[0,16]},"title":"Distance (Å)"},"color":{"field":"lab","type":"nominal","title":null}}},{"mark":"rule","encoding":{"y":{"datum":3.5}}}]},
{"width":169,"transform":[{"filter":"datum.p=='D32'"}],"layer":[{"mark":"line","encoding":{"x":{"field":"t","type":"quantitative","title":"Time [ns]"},"y":{"field":"d","type":"quantitative","scale":{"domain":[0,16]},"title":"Distance (Å)"},"color":{"field":"lab","type":"nominal","title":null}}},{"mark":"rule","encoding":{"y":{"datum":3.5}}}]},
{"width":169,"transform":[{"filter":"datum.p=='D33'"}],"layer":[{"mark":"line","encoding":{"x":{"field":"t","type":"quantitative","title":"Time [ns]"},"y":{"field":"d","type":"quantitative","scale":{"domain":[0,16]},"title":"Distance (Å)"},"color":{"field":"lab","type":"nominal","title":null}}},{"mark":"rule","encoding":{"y":{"datum":3.5}}}]}
]}
],"spacing":59,"resolve":{"scale":{"color":"independent"}}}
],
"config":{
"font":"Liberation Sans",
"view":{"continuousWidth":167,"continuousHeight":96,"stroke":"#222","strokeWidth":1.5},
"axis":{"grid":false,"domainColor":"#222","domainWidth":1.5,"tickColor":"#222","tickSize":3,"labelFontSize":8,"labelColor":"#444","titleFontSize":8.5,"titleFontWeight":"normal","titleColor":"#333","labelFlush":false,"labelOverlap":false,"labelPadding":1,"titlePadding":2},
"axisX":{"tickCount":5,"format":"d"},
"axisY":{"tickCount":4},
"legend":{"orient":"top-left","offset":5,"padding":0,"symbolType":"M-1.9,0H1.9","symbolStrokeWidth":4,"symbolSize":64,"labelFontSize":7.5,"labelColor":"#444","rowPadding":-2,"labelOffset":8},
"line":{"strokeWidth":2},
"rule":{"color":"#333","strokeDash":[5,3],"strokeWidth":1},
"range":{"category":["#e8405a","#5fdc48","#3ea2e6"]},
"title":{"fontSize":12,"fontWeight":"bold","color":"#111","offset":4}
}
}
